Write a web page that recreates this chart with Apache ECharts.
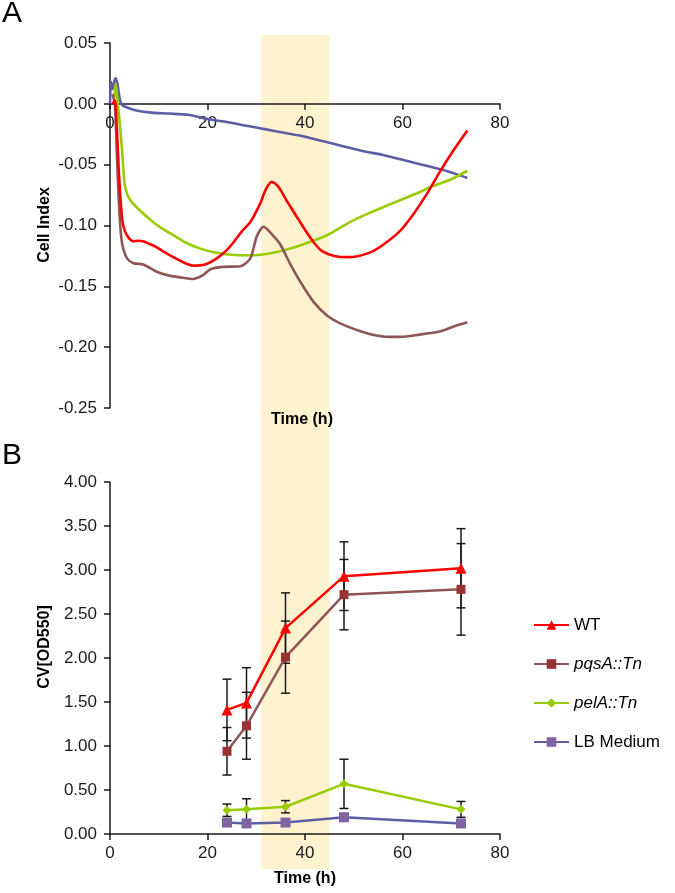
<!DOCTYPE html>
<html><head><meta charset="utf-8">
<script src="https://cdn.jsdelivr.net/npm/echarts@6/dist/echarts.min.js"></script>
<style>html,body{margin:0;padding:0;background:#fff}#c{width:675px;height:893px}</style>
</head><body><div id="c"></div>
<script>
// ---------- Panel A: Cell Index (time h, value) ----------
const ciLB = [[0,0.0],[0.2,0.018],[0.5,0.012],[0.8,0.017],[1.1,0.021],[1.5,0.017],[2.0,0.004],[2.5,-0.001],[3.5,-0.003],[5,-0.005],[8,-0.007],[12,-0.008],[16,-0.009],[20,-0.0125],[24,-0.015],[28,-0.018],[32,-0.021],[36,-0.024],[40,-0.027],[44,-0.031],[48,-0.035],[52,-0.039],[56,-0.042],[60,-0.046],[64,-0.050],[68,-0.054],[72,-0.059],[73.3,-0.061]];
const ciPel = [[0.9,0.005],[1.2,0.017],[1.6,0.0],[2.1,-0.02],[2.6,-0.045],[3.0,-0.066],[3.6,-0.075],[4.5,-0.081],[6,-0.087],[8.2,-0.095],[10.5,-0.102],[13,-0.108],[15.5,-0.114],[18.5,-0.119],[22,-0.1225],[25,-0.124],[28,-0.1245],[31,-0.124],[34,-0.122],[37,-0.119],[40,-0.115],[44.5,-0.108],[49.3,-0.097],[53,-0.090],[56,-0.085],[59.6,-0.079],[63,-0.0735],[66,-0.068],[70,-0.062],[73.3,-0.055]];
const ciWT = [[0.5,0.0],[1.0,0.003],[1.4,-0.02],[1.8,-0.055],[2.1,-0.075],[2.5,-0.095],[3.0,-0.104],[3.8,-0.110],[4.8,-0.113],[5.8,-0.1125],[6.8,-0.113],[8,-0.115],[9.6,-0.118],[11.6,-0.123],[14.4,-0.129],[17,-0.133],[19.5,-0.132],[21.9,-0.127],[24,-0.120],[25.3,-0.114],[27,-0.105],[28.8,-0.097],[30.8,-0.082],[32,-0.070],[33.2,-0.064],[34.5,-0.068],[36.3,-0.080],[38.5,-0.094],[40.4,-0.106],[42,-0.115],[43.5,-0.121],[46,-0.125],[48.7,-0.126],[51,-0.125],[54,-0.121],[57,-0.113],[59.6,-0.104],[62,-0.092],[65,-0.074],[67.5,-0.057],[70,-0.041],[73.3,-0.022]];
const ciPqs = [[0.5,0.008],[1.0,0.0],[1.4,-0.04],[1.8,-0.079],[2.2,-0.105],[2.6,-0.117],[3.5,-0.127],[4.8,-0.131],[6.8,-0.132],[9.6,-0.138],[12,-0.141],[15,-0.143],[17,-0.144],[19,-0.141],[20.6,-0.136],[23,-0.134],[26.7,-0.1335],[28.8,-0.127],[30.1,-0.109],[31.5,-0.101],[33.6,-0.109],[35,-0.116],[37,-0.132],[39,-0.146],[41.8,-0.163],[44.5,-0.174],[47,-0.180],[51.4,-0.187],[54.1,-0.190],[57,-0.1915],[59.6,-0.1915],[63,-0.190],[67.8,-0.187],[70.5,-0.183],[73.3,-0.1795]];

// ---------- Panel B: CV[OD550] ----------
const bTimes  = [24, 28, 36, 48, 72];
const wtMean  = [1.41, 1.49, 2.34, 2.93, 3.02];
const wtErr   = [0.35, 0.40, 0.40, 0.39, 0.45];
const pqsMean = [0.94, 1.23, 2.01, 2.72, 2.78];
const pqsErr  = [0.27, 0.38, 0.41, 0.40, 0.52];
const pelMean = [0.27, 0.28, 0.31, 0.57, 0.28];
const pelErr  = [0.07, 0.12, 0.07, 0.28, 0.09];
const lbMean  = [0.13, 0.12, 0.13, 0.19, 0.12];
const lbErr   = [0.03, 0.03, 0.03, 0.03, 0.03];

const seriesNames = ['WT', 'pqsA::Tn', 'pelA::Tn', 'LB Medium'];
const highlightBand = [31, 45];
const topYTicks = [-0.25, 0.05, 0.05];   // min, max, interval
const botYTicks = [0, 4, 0.5];
const xTicks = [0, 80, 20];

const FONT = '"Liberation Sans", Arial, sans-serif';
const colWT = '#FF0000', colPqsLine = '#8E5656', colPqsMark = '#993333';
const colPel = '#99CC00', colLBLine = '#5E5EA4', colLBMark = '#8064A2';

const TOP_H = 365;
// place panel A's x axis at Cell Index = 0 (offset derived from the y-scale)
const topXOffset = -TOP_H * (0 - topYTicks[0]) / (topYTicks[1] - topYTicks[0]);

const chart = echarts.init(document.getElementById('c'), null, {renderer: 'canvas'});

function pairs(t, v) { return t.map((x, i) => [x, v[i]]); }
function errData(t, m, e) { return t.map((x, i) => [x, m[i] - e[i], m[i] + e[i]]); }

function errRender(params, api) {
  const x = api.value(0), lo = api.value(1), hi = api.value(2);
  const a = api.coord([x, hi]), b = api.coord([x, lo]);
  const w = 4.5, st = {stroke: '#1a1a1a', lineWidth: 1.5};
  return {type: 'group', children: [
    {type: 'line', shape: {x1: a[0], y1: a[1], x2: b[0], y2: b[1]}, style: st},
    {type: 'line', shape: {x1: a[0] - w, y1: a[1], x2: a[0] + w, y2: a[1]}, style: st},
    {type: 'line', shape: {x1: b[0] - w, y1: b[1], x2: b[0] + w, y2: b[1]}, style: st}
  ]};
}
function bandRender(params, api) {
  const p0 = api.coord([api.value(0), 1]), p1 = api.coord([api.value(1), 0]);
  return {type: 'rect', shape: {x: p0[0], y: p0[1], width: p1[0] - p0[0], height: p1[1] - p0[1]},
    style: {fill: '#FFF2CF'}};
}

const axisLab = {color: '#1a1a1a', fontSize: 17, fontFamily: FONT};
const axLine = {lineStyle: {color: '#1a1a1a', width: 1.5}};
const axTick = {length: 6, lineStyle: {color: '#1a1a1a', width: 1.5}};
const fmt2 = v => (Math.abs(v) < 1e-9 ? 0 : v).toFixed(2);

function errSeries(name, t, m, e) {
  return {name: name + ' err', type: 'custom', xAxisIndex: 1, yAxisIndex: 1, z: 3,
    encode: {x: 0, y: [1, 2]}, renderItem: errRender, data: errData(t, m, e), silent: true};
}
function ciLine(name, data, color) {
  return {name: name, type: 'line', xAxisIndex: 0, yAxisIndex: 0, data: data, showSymbol: false,
    symbol: 'none', smooth: 0.25, lineStyle: {color: color, width: 2.6}, z: 4, silent: true};
}

const option = {
  animation: false,
  backgroundColor: '#fff',
  grid: [
    {left: 110, right: 175, top: 43, height: TOP_H},
    {left: 110, right: 175, top: 482, height: 352},
    {left: 110, right: 175, top: 35, bottom: 24}
  ],
  xAxis: [
    {type: 'value', gridIndex: 0, min: xTicks[0], max: xTicks[1], interval: xTicks[2],
      position: 'bottom', offset: topXOffset,
      axisLine: Object.assign({onZero: false}, axLine), axisTick: axTick, splitLine: {show: false},
      axisLabel: Object.assign({margin: 11}, axisLab)},
    {type: 'value', gridIndex: 1, min: xTicks[0], max: xTicks[1], interval: xTicks[2],
      axisLine: axLine, axisTick: axTick, splitLine: {show: false},
      axisLabel: Object.assign({margin: 11}, axisLab)},
    {type: 'value', gridIndex: 2, min: xTicks[0], max: xTicks[1], show: false}
  ],
  yAxis: [
    {type: 'value', gridIndex: 0, min: topYTicks[0], max: topYTicks[1], interval: topYTicks[2],
      axisLine: Object.assign({show: true, onZero: false}, axLine), axisTick: Object.assign({show: true}, axTick), splitLine: {show: false},
      axisLabel: Object.assign({margin: 13, formatter: fmt2}, axisLab)},
    {type: 'value', gridIndex: 1, min: botYTicks[0], max: botYTicks[1], interval: botYTicks[2],
      axisLine: Object.assign({show: true}, axLine), axisTick: Object.assign({show: true}, axTick), splitLine: {show: false},
      axisLabel: Object.assign({margin: 13, formatter: fmt2}, axisLab)},
    {type: 'value', gridIndex: 2, min: 0, max: 1, show: false}
  ],
  legend: {
    data: seriesNames, orient: 'vertical', left: 528, top: 610, itemGap: 19,
    itemWidth: 35, itemHeight: 12,
    textStyle: {color: '#000', fontSize: 17, fontFamily: FONT, lineHeight: 20,
      rich: {i: {fontStyle: 'italic', fontSize: 17, fontFamily: FONT, color: '#000'}}},
    formatter: n => (n === 'pqsA::Tn' || n === 'pelA::Tn') ? '{i|' + n + '}' : n
  },
  graphic: [
    {type: 'text', z: 100, left: 2, top: -1, style: {text: 'A', font: '30px ' + FONT, fill: '#000'}},
    {type: 'text', z: 100, left: 2, top: 441, style: {text: 'B', font: '30px ' + FONT, fill: '#000'}},
    {type: 'text', z: 100, x: 45, y: 225, rotation: Math.PI / 2, style: {text: 'Cell Index', font: 'bold 16px ' + FONT, fill: '#000', align: 'center', verticalAlign: 'middle'}},
    {type: 'text', z: 100, x: 45, y: 647, rotation: Math.PI / 2, style: {text: 'CV[OD550]', font: 'bold 16px ' + FONT, fill: '#000', align: 'center', verticalAlign: 'middle'}},
    {type: 'text', z: 100, x: 302, y: 420, style: {text: 'Time (h)', font: 'bold 16px ' + FONT, fill: '#000', align: 'center', verticalAlign: 'middle'}},
    {type: 'text', z: 100, x: 305, y: 879, style: {text: 'Time (h)', font: 'bold 16px ' + FONT, fill: '#000', align: 'center', verticalAlign: 'middle'}}
  ],
  series: [
    {name: 'band', type: 'custom', xAxisIndex: 2, yAxisIndex: 2, z: -10, zlevel: 0, silent: true,
      encode: {x: [0, 1]}, renderItem: bandRender, data: [highlightBand]},
    errSeries('WT', bTimes, wtMean, wtErr),
    errSeries('pqsA::Tn', bTimes, pqsMean, pqsErr),
    errSeries('pelA::Tn', bTimes, pelMean, pelErr),
    errSeries('LB Medium', bTimes, lbMean, lbErr),
    {name: 'LB Medium', type: 'line', xAxisIndex: 1, yAxisIndex: 1, data: pairs(bTimes, lbMean), z: 5,
      symbol: 'rect', symbolSize: 10, itemStyle: {color: colLBMark}, lineStyle: {color: colLBLine, width: 2.5}},
    {name: 'pelA::Tn', type: 'line', xAxisIndex: 1, yAxisIndex: 1, data: pairs(bTimes, pelMean), z: 5,
      symbol: 'diamond', symbolSize: 9, itemStyle: {color: colPel}, lineStyle: {color: colPel, width: 2.5}},
    {name: 'pqsA::Tn', type: 'line', xAxisIndex: 1, yAxisIndex: 1, data: pairs(bTimes, pqsMean), z: 5,
      symbol: 'rect', symbolSize: 9, itemStyle: {color: colPqsMark}, lineStyle: {color: colPqsLine, width: 2.5}},
    {name: 'WT', type: 'line', xAxisIndex: 1, yAxisIndex: 1, data: pairs(bTimes, wtMean), z: 6,
      symbol: 'triangle', symbolSize: 11, itemStyle: {color: colWT}, lineStyle: {color: colWT, width: 2.5}},
    ciLine('LB (cell index)', ciLB, colLBLine),
    ciLine('pelA (cell index)', ciPel, colPel),
    ciLine('pqsA (cell index)', ciPqs, colPqsLine),
    ciLine('WT (cell index)', ciWT, colWT)
  ]
};
chart.setOption(option);
</script>
</body></html>
